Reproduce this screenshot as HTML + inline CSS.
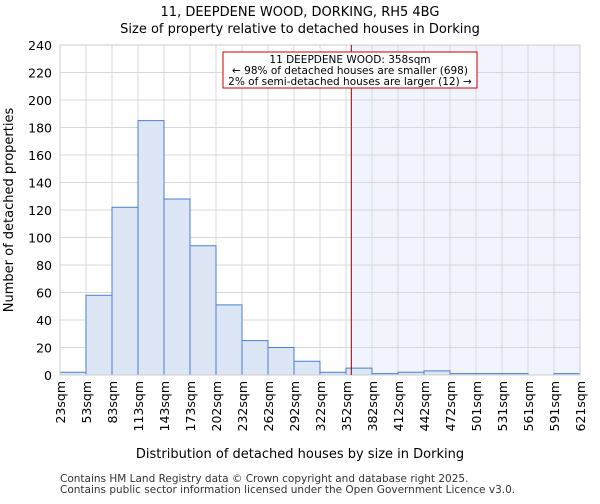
<!DOCTYPE html>
<html><head><meta charset="utf-8"><style>
body{margin:0;background:#fff;width:600px;height:500px;overflow:hidden;font-family:"DejaVu Sans","Liberation Sans",sans-serif}
</style></head><body>
<svg id="c" width="600" height="500" xmlns="http://www.w3.org/2000/svg" font-family="DejaVu Sans, Liberation Sans, sans-serif">
<text x="300" y="16" text-anchor="middle" font-size="13">11, DEEPDENE WOOD, DORKING, RH5 4BG</text>
<text x="300" y="33" text-anchor="middle" font-size="13">Size of property relative to detached houses in Dorking</text>
<g id="plot"></g>
<text x="300" y="458" text-anchor="middle" font-size="13">Distribution of detached houses by size in Dorking</text>
<text transform="translate(13,210) rotate(-90)" text-anchor="middle" font-size="13">Number of detached properties</text>
<text x="60" y="482" font-size="10.5" fill="#333">Contains HM Land Registry data © Crown copyright and database right 2025.</text>
<text x="60" y="493" font-size="10.5" fill="#333">Contains public sector information licensed under the Open Government Licence v3.0.</text>
</svg>
<script>
const binLabels=["23sqm","53sqm","83sqm","113sqm","143sqm","173sqm","202sqm","232sqm","262sqm","292sqm","322sqm","352sqm","382sqm","412sqm","442sqm","472sqm","501sqm","531sqm","561sqm","591sqm","621sqm"];
const binEdges=[23,53,83,113,143,173,202,232,262,292,322,352,382,412,442,472,501,531,561,591,621];
const counts=[2,58,122,185,128,94,51,25,20,10,2,5,1,2,3,1,1,1,0,1];
const yTicks=[0,20,40,60,80,100,120,140,160,180,200,220,240];
const subjectSize=358;
const NS="http://www.w3.org/2000/svg";
const L=60,R=580,T=45,B=375,yMax=240;
const xs=i=>L+i*(R-L)/(binLabels.length-1);
const xv=v=>L+(v-binEdges[0])/(binEdges[binEdges.length-1]-binEdges[0])*(R-L);
const ys=v=>B-v/yMax*(B-T);
const g=document.getElementById('plot');
function mk(t,a){const e=document.createElementNS(NS,t);for(const k in a)e.setAttribute(k,a[k]);g.appendChild(e);return e;}
const sx=xv(subjectSize);
let e=mk('rect',{x:sx,y:T,width:R-sx,height:B-T,fill:'#f1f4fc'});


yTicks.forEach(v=>{
 let l=mk('line',{x1:L,x2:R,y1:ys(v),y2:ys(v),stroke:'#d8d8d8','stroke-width':1});
 
 
 let t=mk('text',{x:L-8,y:ys(v)+5,'text-anchor':'end','font-size':12.5});
 t.textContent=v;
 
 
});
binLabels.forEach((s,i)=>{
 let l=mk('line',{x1:xs(i),x2:xs(i),y1:T,y2:B,stroke:'#d8d8d8','stroke-width':1});
 
 
 let t=mk('text',{transform:`translate(${xs(i)+5},${B+6}) rotate(-90)`,'text-anchor':'end','font-size':12.5});
 t.textContent=s;
 
 
});
counts.forEach((c,i)=>{
 let r=mk('rect',{x:xs(i),y:ys(c),width:xs(i+1)-xs(i),height:B-ys(c),fill:'#dce6f4',stroke:'#4a7fd0','stroke-width':1});
 
 
});
let ax=mk('rect',{x:L,y:T,width:R-L,height:B-T,fill:'none',stroke:'#ccc'});


let ml=mk('line',{x1:sx,x2:sx,y1:T,y2:B,stroke:'#8b0000','stroke-width':1});


let bx=mk('rect',{x:223,y:52,width:254,height:36,fill:'#fff',stroke:'#c00','stroke-width':1});


["11 DEEPDENE WOOD: 358sqm","← 98% of detached houses are smaller (698)","2% of semi-detached houses are larger (12) →"].forEach((s,i)=>{
 let t=mk('text',{x:350,y:63+i*11,'text-anchor':'middle','font-size':10.5});
 t.textContent=s;
 
 
});
</script>
</body></html>
